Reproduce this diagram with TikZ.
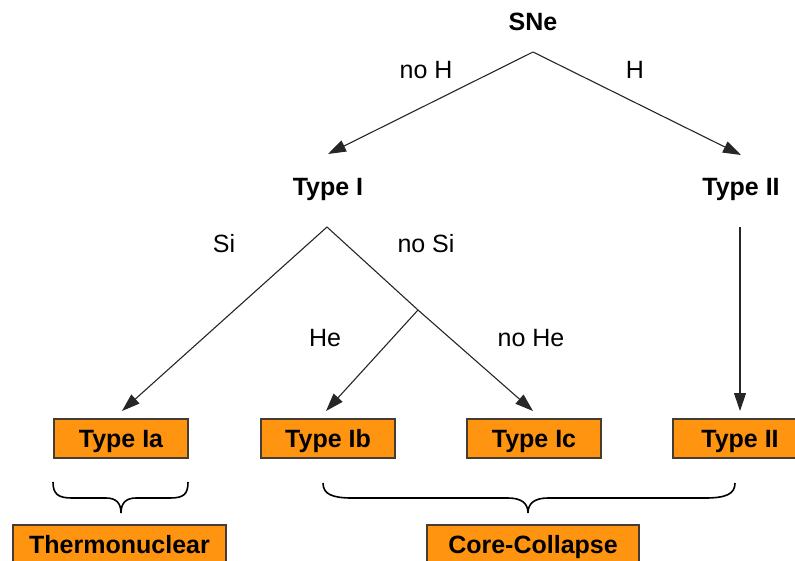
\documentclass[tikz,border=0pt]{standalone}
\usepackage{fontspec}
\setmainfont{Liberation Sans}
\usetikzlibrary{arrows.meta}
\definecolor{boxfill}{RGB}{255,148,17}
\definecolor{boxline}{RGB}{70,60,50}
\begin{document}
\begin{tikzpicture}[x=1pt,y=-1pt,
  every node/.style={font=\fontsize{25}{30}\selectfont},
  head/.style={font=\fontsize{25}{30}\selectfont\bfseries, inner sep=0pt, text height=21pt, text depth=4pt},
  lbl/.style={inner sep=0pt},
  typebox/.style={draw=boxline, line width=1.3pt, fill=boxfill, font=\fontsize{25}{30}\selectfont\bfseries,
    minimum width=134pt, minimum height=39pt, inner sep=0pt, text height=21pt, text depth=4pt},
  conn/.style={draw=black!85, line width=1.1pt},
  arr/.style={conn, -{Triangle[length=18pt,width=12pt]}},
  bracepath/.style={draw=black, line width=1.6pt}]
\useasboundingbox (0,0) rectangle (795,560);

% headings
\node[head] (sne) at (533,22) {SNe};
\node[head] (t1) at (328,187) {Type I};
\node[head] (t2) at (741,187) {Type II};

% branch points
\coordinate (sneapex) at (533,52);
\coordinate (t1tip) at (328,154);
\coordinate (t2tip) at (741,155);
\coordinate (t1apex) at (327,227);
\coordinate (fork) at (418,310);
\coordinate (t2top) at (740,227);
\coordinate (iatip) at (122,411);
\coordinate (ibtip) at (326,411);
\coordinate (ictip) at (533,411);
\coordinate (iitip) at (740,411);

% labels
\node[lbl] (noh) at (426,70) {no H};
\node[lbl] (h) at (635,70) {H};
\node[lbl] (si) at (224,244) {Si};
\node[lbl] (nosi) at (426,244) {no Si};
\node[lbl] (he) at (325,338) {He};
\node[lbl] (nohe) at (531,338) {no He};

% connectors
\draw[arr] (sneapex) -- (t1tip);
\draw[arr] (sneapex) -- (t2tip);
\draw[arr] (t1apex) -- (iatip);
\draw[arr] (t1apex) -- (fork) -- (ictip);
\draw[arr] (fork) -- (ibtip);
\draw[arr] (t2top) -- (iitip);

% boxes
\node[typebox] (ia) at (121,438.5) {Type Ia};
\node[typebox] (ib) at (328,438.5) {Type Ib};
\node[typebox] (ic) at (534,438.5) {Type Ic};
\node[typebox] (ii) at (740,438.5) {Type II};

% braces
\draw[bracepath] (53,482) .. controls (53,494) and (58,498) .. (72,498)
  -- (106,498) .. controls (116,498) and (121,503) .. (121,513)
  .. controls (121,503) and (126,498) .. (136,498)
  -- (170,498) .. controls (184,498) and (188,494) .. (188,482);
\draw[bracepath] (323,483) .. controls (323,494) and (332,498) .. (352,498)
  -- (508,498) .. controls (521,498) and (528,503) .. (528,513)
  .. controls (528,503) and (535,498) .. (548,498)
  -- (705,498) .. controls (726,498) and (735,494) .. (735,483);

% bottom boxes
\node[typebox, minimum width=213pt] (thermo) at (119.5,544.5) {Thermonuclear};
\node[typebox, minimum width=212pt] (cc) at (533,544.5) {Core-Collapse};
\end{tikzpicture}
\end{document}
